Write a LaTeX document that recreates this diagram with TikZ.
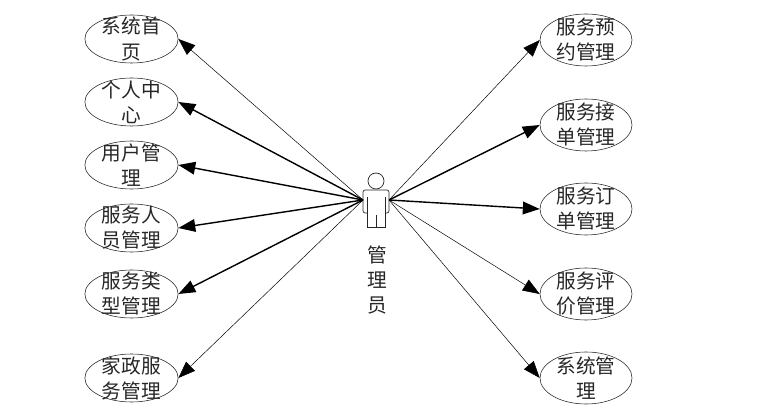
\documentclass[tikz,border=0pt]{standalone}
\usepackage{fontspec}
\usepackage{xcolor}
\usetikzlibrary{arrows.meta, shapes.geometric}
\newfontfamily\cjk{Noto Sans CJK SC}
\definecolor{inkgray}{HTML}{262626}

\tikzset{
    usecase/.style={draw=inkgray, ellipse, minimum width=2.33cm, minimum height=1.2cm, inner sep=0pt},
    usecasewide/.style={usecase, minimum width=2.3cm, minimum height=1.3cm},
    casetext/.style={font=\cjk\fontsize{14}{17.8}\selectfont, align=center, text=black!85},
    link/.style={-{Stealth[length=12pt, width=9pt, inset=0pt]}, draw=black, line width=0.35pt},
    linkbold/.style={-{Stealth[length=12pt, width=9pt, inset=0pt]}, draw=black, line width=1pt},
}

\begin{document}
\begin{tikzpicture}[x=0.025cm, y=-0.025cm]
    \useasboundingbox (0, 0) rectangle (782, 418);

    % Actor
    \draw[inkgray, line width=0.5pt] (376, 181) circle (8);
    \draw[inkgray, line width=0.5pt, rounded corners=1.5pt] (367, 213) -- (363, 213) -- (363, 190) -- (389, 190) -- (389, 213) -- (385, 213);
    \draw[inkgray, line width=0.5pt] (367, 197) -- (367, 227) -- (385, 227) -- (385, 197);
    \draw[inkgray, line width=0.5pt] (376, 215) -- (376, 227);
    \coordinate (handL) at (363, 200);
    \coordinate (handR) at (389, 200);
    \node[casetext] (actorname) at (377, 280) {管\\理\\员};

    % Left use cases
    \node[usecase, label={[casetext]center:{系统首\\页}}] (home) at (131.5, 39) {};
    \node[usecase, label={[casetext]center:{个人中\\心}}] (profile) at (131.5, 102) {};
    \node[usecase, label={[casetext]center:{用户管\\理}}] (users) at (131.5, 165) {};
    \node[usecase, label={[casetext]center:{服务人\\员管理}}] (staff) at (131.5, 228) {};
    \node[usecase, label={[casetext]center:{服务类\\型管理}}] (types) at (131.5, 294) {};
    \node[usecase, label={[casetext]center:{家政服\\务管理}}] (domestic) at (131.5, 378) {};

    % Right use cases
    \node[usecasewide, label={[casetext]center:{服务预\\约管理}}] (booking) at (586, 40) {};
    \node[usecasewide, label={[casetext]center:{服务接\\单管理}}] (accept) at (586, 125) {};
    \node[usecasewide, label={[casetext]center:{服务订\\单管理}}] (orders) at (586, 209) {};
    \node[usecasewide, label={[casetext]center:{服务评\\价管理}}] (reviews) at (586, 294) {};
    \node[usecasewide, label={[casetext]center:{系统管\\理}}] (system) at (586, 378) {};

    % Connectors
    \draw[link] (handL) -- (home.east);
    \foreach \target in {profile, users, staff, types}{
        \draw[linkbold] (handL) -- (\target.east);
    }
    \draw[link] (handL) -- (domestic.east);

    \draw[link] (handR) -- (booking.west);
    \foreach \target in {accept, orders}{
        \draw[linkbold] (handR) -- (\target.west);
    }
    \foreach \target in {reviews, system}{
        \draw[link] (handR) -- (\target.west);
    }
\end{tikzpicture}
\end{document}
